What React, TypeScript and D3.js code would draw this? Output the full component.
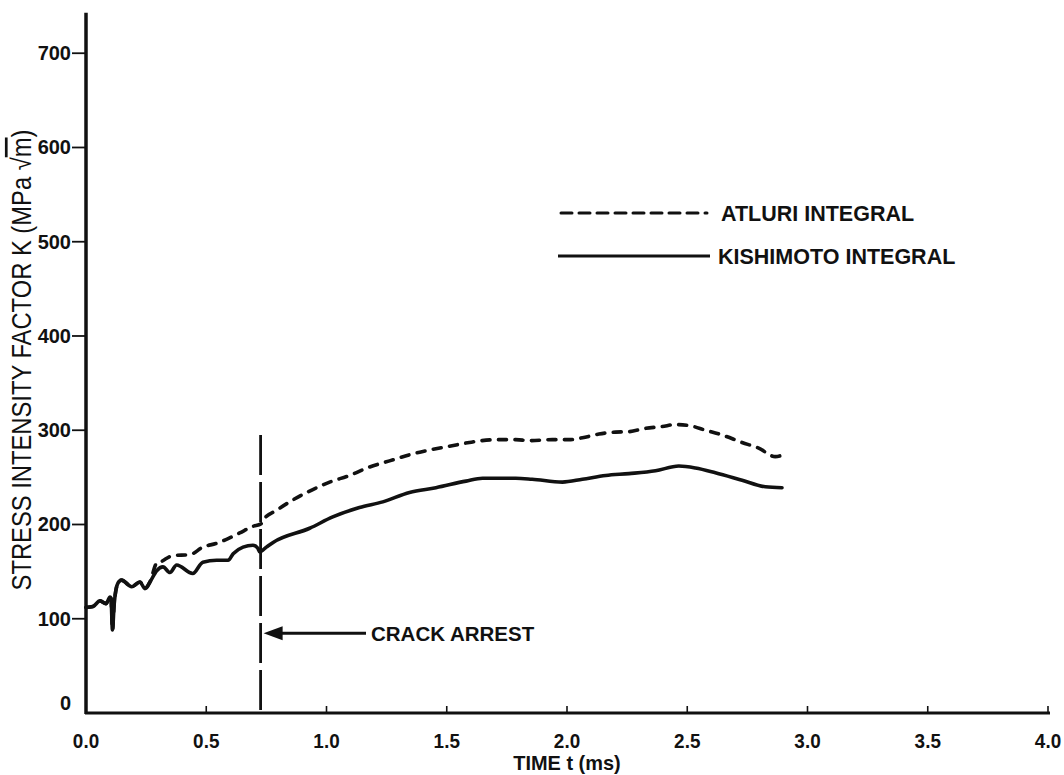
import * as d3 from "d3";

// time (ms) / K (MPa sqrt m)
const kishimotoT = [0.0, 0.029, 0.058, 0.083, 0.1, 0.104, 0.11, 0.117, 0.133, 0.148, 0.19, 0.224, 0.245, 0.266, 0.294, 0.32, 0.349, 0.377, 0.444, 0.486, 0.543, 0.591, 0.612, 0.653, 0.694, 0.714, 0.722, 0.75, 0.778, 0.93, 1.026, 1.137, 1.234, 1.345, 1.455, 1.58, 1.649, 1.787, 1.855, 1.981, 2.064, 2.161, 2.258, 2.368, 2.465, 2.534, 2.617, 2.728, 2.825, 2.894];
const kishimotoK = [112, 113, 119, 116, 123, 122, 88, 115, 138, 141, 134, 139, 132, 139, 151, 155, 149, 157, 148, 160, 162, 162, 169, 176, 178, 175, 171, 176, 181, 196, 208, 218, 224, 234, 239, 246, 249, 249, 248, 245, 248, 252, 254, 257, 262, 260, 255, 247, 240, 239];

const atluriT = [0.0, 0.029, 0.058, 0.083, 0.1, 0.104, 0.11, 0.117, 0.133, 0.148, 0.19, 0.224, 0.245, 0.266, 0.294, 0.307, 0.361, 0.432, 0.486, 0.542, 0.591, 0.639, 0.694, 0.729, 0.736, 0.792, 0.86, 0.93, 1.013, 1.096, 1.179, 1.262, 1.345, 1.428, 1.511, 1.594, 1.704, 1.787, 1.843, 1.939, 2.009, 2.064, 2.133, 2.202, 2.258, 2.327, 2.396, 2.451, 2.507, 2.576, 2.645, 2.728, 2.797, 2.866, 2.908];
const atluriK = [112, 113, 119, 116, 123, 122, 88, 115, 138, 141, 134, 139, 132, 139, 159, 160, 167, 168, 176, 180, 185, 191, 198, 201, 204.5, 215, 226, 235.5, 245, 252, 261, 267.5, 274, 279, 283, 287, 290, 290, 289, 290, 290, 292, 296, 298, 298.5, 302, 304, 306, 305, 300, 295, 287, 281, 272, 275];

const xTicks = [0, 0.5, 1, 1.5, 2, 2.5, 3, 3.5, 4];
const yTicks = [0, 100, 200, 300, 400, 500, 600, 700];

const crackT = 0.726;
const crackTop = 295;
const arrowK = 84.5;

const W = 1064;
const H = 775;
const INK = "#111";

export default function App() {
  const x = d3.scaleLinear().domain([0, 4]).range([86, 1048]);
  const y = d3.scaleLinear().domain([0, 743]).range([713, 12.7]);

  const line = d3
    .line<[number, number]>()
    .x((d) => x(d[0]))
    .y((d) => y(d[1]))
    .curve(d3.curveMonotoneX);

  const kish = kishimotoT.map((t, i) => [t, kishimotoK[i]] as [number, number]);
  const atl = atluriT.map((t, i) => [t, atluriK[i]] as [number, number]);

  const cx = x(crackT);
  const ay = y(arrowK);

  const font = "'Liberation Sans', Arial, sans-serif";

  return (
    <svg width={W} height={H} style={{ position: "absolute", left: 0, top: 0, background: "#fff" }}>
      <rect width={W} height={H} fill="#fff" />

      {/* axes */}
      <line x1={x(0)} x2={x(0)} y1={y(0) + 1} y2={y(743)} stroke={INK} strokeWidth={3.5} />
      <line x1={x(0) - 1} x2={x(4) + 2} y1={y(0)} y2={y(0)} stroke={INK} strokeWidth={3} />

      {yTicks.map((v) => (
        <g key={v}>
          {v > 0 && <line x1={72} x2={x(0)} y1={y(v)} y2={y(v)} stroke={INK} strokeWidth={1.8} />}
          <text
            x={71}
            y={v > 0 ? y(v) : y(v) - 10}
            dy="0.35em"
            textAnchor="end"
            fontFamily={font}
            fontWeight="bold"
            fontSize={20}
            fill={INK}
          >
            {v}
          </text>
        </g>
      ))}

      {xTicks.map((v) => (
        <g key={v}>
          <line x1={x(v)} x2={x(v)} y1={y(0)} y2={y(0) - 7} stroke={INK} strokeWidth={1.6} />
          <text
            transform={`translate(${x(v)},741) scale(0.9,1)`}
            dy="0.35em"
            textAnchor="middle"
            fontFamily={font}
            fontWeight="bold"
            fontSize={21}
            fill={INK}
          >
            {v.toFixed(1)}
          </text>
        </g>
      ))}

      <text
        transform={`translate(${x(2)},763) scale(0.95,1)`}
        dy="0.35em"
        textAnchor="middle"
        fontFamily={font}
        fontWeight="bold"
        fontSize={21}
        fill={INK}
      >
        TIME t (ms)
      </text>

      <text
        transform={`translate(22,360) rotate(-90) scale(0.88,1)`}
        textAnchor="middle"
        dy="0.35em"
        fontFamily={font}
        fontSize={27}
        fill={INK}
      >
        STRESS INTENSITY FACTOR K (MPa √<tspan style={{ textDecoration: "overline" }}>m</tspan>)
      </text>

      {/* crack arrest */}
      <line x1={cx} x2={cx} y1={y(crackTop)} y2={y(0)} stroke={INK} strokeWidth={2.8} strokeDasharray="40 7" />
      <line x1={cx + 16} x2={366} y1={ay} y2={ay} stroke={INK} strokeWidth={3} />
      <path d={`M${cx + 3},${ay} L${cx + 22},${ay - 7} L${cx + 22},${ay + 7} Z`} fill={INK} />
      <text x={371} y={ay} dy="0.35em" fontFamily={font} fontWeight="bold" fontSize={20.5} fill={INK}>
        CRACK ARREST
      </text>

      {/* curves */}
      <path d={line(atl) ?? ""} fill="none" stroke={INK} strokeWidth={3.6} strokeDasharray="8 8.5" strokeLinecap="round" />
      <path d={line(kish) ?? ""} fill="none" stroke={INK} strokeWidth={3.6} strokeLinejoin="round" strokeLinecap="round" />

      {/* legend */}
      <line x1={561} x2={707} y1={213} y2={213} stroke={INK} strokeWidth={3} strokeDasharray="11 7" strokeLinecap="round" />
      <text x={721} y={213} dy="0.35em" fontFamily={font} fontWeight="bold" fontSize={21.5} fill={INK}>
        ATLURI INTEGRAL
      </text>
      <line x1={558} x2={710} y1={256} y2={256} stroke={INK} strokeWidth={3} />
      <text x={718} y={256} dy="0.35em" fontFamily={font} fontWeight="bold" fontSize={21.5} fill={INK}>
        KISHIMOTO INTEGRAL
      </text>
    </svg>
  );
}
